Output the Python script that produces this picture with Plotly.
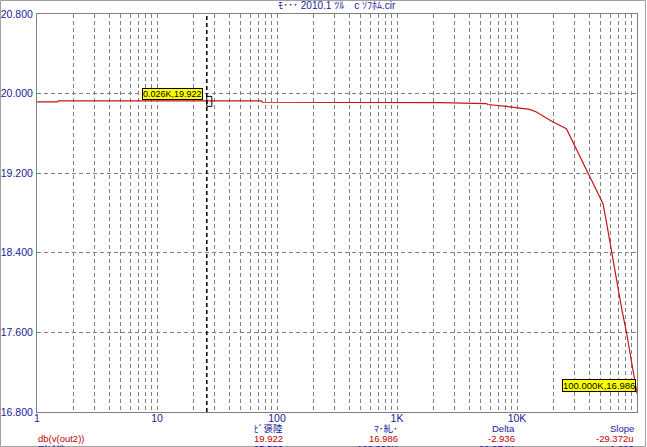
import math
import plotly.graph_objects as go

# ---- data ----
freq_hz = [1, 1.48, 1.5, 74, 76, 2270, 5560, 5700, 8170, 9890, 12760, 14500,
           19950, 25800, 39000, 50500, 52100, 55600, 61200, 67300, 74100, 81600, 100000]
gain_db = [19.916, 19.916, 19.926, 19.926, 19.913, 19.910, 19.900, 19.890, 19.872,
           19.859, 19.842, 19.815, 19.715, 19.648, 19.212, 18.938, 18.894, 18.710,
           18.410, 18.157, 17.855, 17.604, 16.986]

x_tick_vals = [1, 10, 100, 1000, 10000, 100000]
x_tick_text = ["1", "10", "100", "1K", "10K", "100K"]
y_tick_vals = [16.8, 17.6, 18.4, 19.2, 20.0, 20.8]

cursor1 = (26, 19.922, "0.026K,19.922")
cursor2 = (100000, 16.986, "100.000K,16.986")

title_text = "ﾓ･･･ 2010.1 ﾂﾙ　c ｿﾌﾎﾑ.cir"
header_row = ["ﾋﾞ褒陸", "ﾏ･糺･", "Delta", "Slope"]
value_label = "db(v(out2))"
value_row = ["19.922", "16.986", "-2.936", "-29.372u"]
freq_label = "F(ﾍﾙﾂ)"
freq_row = ["25.500", "100.000K", "99.974K", "1.000"]

# ---- layout geometry ----
W, H = 647, 447
L, R, T, B = 37, 637, 14, 412
FONT = "Liberation Sans, Arial, Noto Sans CJK JP"
BLUE = "#1a1a9a"
RED = "#c00000"

def px(x):
    return (x - L) / (R - L)

def py(y):
    return (B - y) / (B - T)

minor_vals = [m * 10 ** d for d in range(0, 5) for m in range(2, 10)]

fig = go.Figure()
fig.add_trace(go.Scatter(x=freq_hz, y=gain_db, mode="lines",
                         line=dict(color="#c81414", width=1.2),
                         hoverinfo="skip", showlegend=False))

fig.update_layout(
    width=W, height=H, autosize=False,
    margin=dict(l=L, r=W - R, t=T, b=H - B, pad=0),
    paper_bgcolor="white", plot_bgcolor="white",
    font=dict(family=FONT, size=10, color=BLUE),
    showlegend=False,
)
fig.update_xaxes(
    type="log", range=[0, 5], automargin=False,
    tickmode="array", tickvals=x_tick_vals, ticktext=x_tick_text,
    ticks="", showgrid=True, gridcolor="#808080", griddash="4px,3px", gridwidth=1,
    minor=dict(tickmode="array", tickvals=minor_vals, showgrid=True,
               gridcolor="#808080", griddash="4px,3px", gridwidth=1, ticks=""),
    showline=True, linecolor="#808080", linewidth=1, mirror=True,
    zeroline=False, tickfont=dict(size=10.5, color=BLUE), ticklabelstandoff=-4,
)
fig.update_yaxes(
    range=[16.8, 20.8], tickmode="array", tickvals=y_tick_vals, automargin=False,
    ticktext=[f"{v:.3f}" for v in y_tick_vals],
    ticks="", showgrid=True, gridcolor="#808080", griddash="4px,3px", gridwidth=1,
    showline=True, linecolor="#808080", linewidth=1, mirror=True,
    zeroline=False, tickfont=dict(size=10.5, color=BLUE), ticklabelstandoff=1,
)

# cursor line and marker box
fig.add_shape(type="line", xref="x", yref="paper", x0=cursor1[0], x1=cursor1[0],
              y0=0, y1=1, line=dict(color="black", width=1.5, dash="4px,3px"))
fig.add_shape(type="rect", xref="x", yref="y", xsizemode="pixel", ysizemode="pixel",
              xanchor=cursor1[0], yanchor=cursor1[1], x0=-5, x1=5, y0=-5, y1=5,
              line=dict(color="black", width=1), fillcolor="rgba(0,0,0,0)")

# cursor labels
fig.add_annotation(x=math.log10(cursor1[0]), y=cursor1[1], xref="x", yref="y",
                   text=cursor1[2], showarrow=False, xanchor="right", yanchor="bottom",
                   xshift=-4, yshift=1, bgcolor="#ffff00", bordercolor="black",
                   borderwidth=1, borderpad=0, font=dict(size=9, color="black"))
fig.add_annotation(x=math.log10(cursor2[0]), y=cursor2[1], xref="x", yref="y",
                   text=cursor2[2], showarrow=False, xanchor="right", yanchor="bottom",
                   xshift=-1, yshift=1, bgcolor="#ffff00", bordercolor="black",
                   borderwidth=1, borderpad=0, font=dict(size=9.5, color="black"))

# title
fig.add_annotation(x=px(337), y=py(6), xref="paper", yref="paper", text=title_text,
                   showarrow=False, xanchor="center", yanchor="middle",
                   font=dict(size=10, color=BLUE))

# bottom readout rows
cols_right = [285, 400, 517, 636]
ROW_FONT = 9.5
for txt, xr in zip(header_row, cols_right):
    fig.add_annotation(x=px(xr), y=py(429), xref="paper", yref="paper", text=txt,
                       showarrow=False, xanchor="right", yanchor="middle",
                       font=dict(size=ROW_FONT, color=BLUE))
fig.add_annotation(x=px(36), y=py(438.5), xref="paper", yref="paper", text=value_label,
                   showarrow=False, xanchor="left", yanchor="middle",
                   font=dict(size=ROW_FONT, color=RED))
for txt, xr in zip(value_row, cols_right):
    fig.add_annotation(x=px(xr), y=py(438.5), xref="paper", yref="paper", text=txt,
                       showarrow=False, xanchor="right", yanchor="middle",
                       font=dict(size=ROW_FONT, color=RED))
fig.add_annotation(x=px(36), y=py(448), xref="paper", yref="paper", text=freq_label,
                   showarrow=False, xanchor="left", yanchor="middle",
                   font=dict(size=ROW_FONT, color=BLUE))
for txt, xr in zip(freq_row, cols_right):
    fig.add_annotation(x=px(xr), y=py(448), xref="paper", yref="paper", text=txt,
                       showarrow=False, xanchor="right", yanchor="middle",
                       font=dict(size=ROW_FONT, color=BLUE))

# window frame
fig.add_shape(type="rect", xref="paper", yref="paper",
              x0=px(0.5), x1=px(645.5), y0=py(446.5), y1=py(0.5),
              line=dict(color="#a0a0a0", width=1), fillcolor="rgba(0,0,0,0)", layer="below")

fig.write_html("out.html", config={"displayModeBar": False},
               post_script="document.body.style.margin='0';document.body.style.overflow='hidden';")
